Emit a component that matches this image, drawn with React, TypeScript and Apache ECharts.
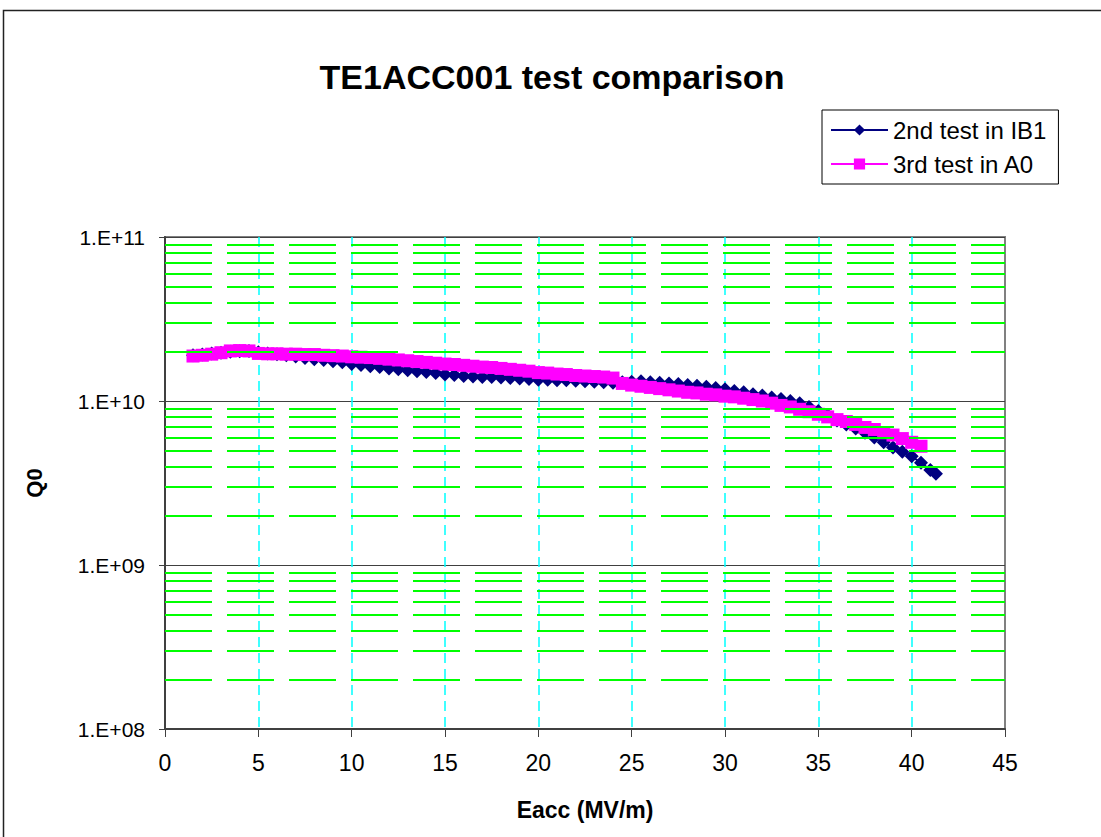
import React, { useEffect, useRef } from "react";
import * as echarts from "echarts";

const ib1X = [1.5, 2, 2.5, 3, 3.5, 4, 4.5, 5, 5.5, 6, 6.5, 7, 7.5, 8, 8.5, 9, 9.5, 10, 10.5, 11, 11.5, 12, 12.5, 13, 13.5, 14, 14.5, 15, 15.5, 16, 16.5, 17, 17.5, 18, 18.5, 19, 19.5, 20, 20.5, 21, 21.5, 22, 22.5, 23, 23.5, 24, 24.5, 25, 25.5, 26, 26.5, 27, 27.5, 28, 28.5, 29, 29.5, 30, 30.5, 31, 31.5, 32, 32.5, 33, 33.5, 34, 34.5, 35, 35.5, 36, 36.5, 37, 37.5, 38, 38.5, 39, 39.5, 40, 40.5, 41, 41.3];
const ib1Q = [1.9e10, 1.92e10, 1.95e10, 1.97e10, 2.0e10, 2.01e10, 2.02e10, 1.98e10, 1.95e10, 1.93e10, 1.9e10, 1.87e10, 1.83e10, 1.8e10, 1.78e10, 1.75e10, 1.72e10, 1.68e10, 1.66e10, 1.63e10, 1.61e10, 1.58e10, 1.56e10, 1.54e10, 1.52e10, 1.5e10, 1.48e10, 1.45e10, 1.44e10, 1.42e10, 1.41e10, 1.4e10, 1.4e10, 1.39e10, 1.38e10, 1.37e10, 1.36e10, 1.35e10, 1.35e10, 1.34e10, 1.34e10, 1.33e10, 1.32e10, 1.31e10, 1.3e10, 1.29e10, 1.3e10, 1.31e10, 1.32e10, 1.3e10, 1.29e10, 1.28e10, 1.27e10, 1.25e10, 1.24e10, 1.22e10, 1.2e10, 1.18e10, 1.15e10, 1.13e10, 1.1e10, 1.08e10, 1.05e10, 1.03e10, 1.0e10, 0.97e10, 0.92e10, 0.87e10, 0.82e10, 0.76e10, 0.72e10, 0.68e10, 0.64e10, 0.6e10, 0.56e10, 0.52e10, 0.49e10, 0.46e10, 0.42e10, 0.38e10, 0.36e10];

const a0X = [1.5, 2, 2.5, 3, 3.5, 4, 4.5, 5, 5.5, 6, 6.5, 7, 7.5, 8, 8.5, 9, 9.5, 10, 10.5, 11, 11.5, 12, 12.5, 13, 13.5, 14, 14.5, 15, 15.5, 16, 16.5, 17, 17.5, 18, 18.5, 19, 19.5, 20, 20.5, 21, 21.5, 22, 22.5, 23, 23.5, 24, 24.5, 25, 25.5, 26, 26.5, 27, 27.5, 28, 28.5, 29, 29.5, 30, 30.5, 31, 31.5, 32, 32.5, 33, 33.5, 34, 34.5, 35, 35.5, 36, 36.5, 37, 37.5, 38, 38.5, 39, 39.5, 40, 40.5];
const a0Q = [1.88e10, 1.9e10, 1.93e10, 1.97e10, 2.02e10, 2.03e10, 2.02e10, 1.95e10, 1.94e10, 1.94e10, 1.93e10, 1.93e10, 1.92e10, 1.92e10, 1.9e10, 1.89e10, 1.88e10, 1.86e10, 1.85e10, 1.84e10, 1.82e10, 1.8e10, 1.78e10, 1.76e10, 1.74e10, 1.72e10, 1.7e10, 1.68e10, 1.67e10, 1.65e10, 1.63e10, 1.61e10, 1.6e10, 1.58e10, 1.56e10, 1.54e10, 1.52e10, 1.49e10, 1.48e10, 1.46e10, 1.45e10, 1.43e10, 1.42e10, 1.41e10, 1.4e10, 1.38e10, 1.28e10, 1.25e10, 1.23e10, 1.21e10, 1.19e10, 1.17e10, 1.15e10, 1.13e10, 1.12e10, 1.1e10, 1.09e10, 1.07e10, 1.06e10, 1.04e10, 1.02e10, 1.0e10, 0.97e10, 0.94e10, 0.92e10, 0.89e10, 0.86e10, 0.83e10, 0.8e10, 0.77e10, 0.75e10, 0.72e10, 0.69e10, 0.67e10, 0.64e10, 0.62e10, 0.59e10, 0.56e10, 0.53e10];

const minorGridValues: number[] = [];
[1e8, 1e9, 1e10].forEach((d) => {
  [2, 3, 4, 5, 6, 7, 8, 9].forEach((m) => minorGridValues.push(m * d));
});

const FONT = "Liberation Sans, Arial, sans-serif";

export default function App() {
  const ref = useRef<HTMLDivElement>(null);
  useEffect(() => {
    if (!ref.current) return;
    const chart = echarts.init(ref.current, null, { renderer: "svg" });
    chart.setOption({
      animation: false,
      backgroundColor: "#ffffff",
      title: {
        text: "TE1ACC001 test comparison",
        left: 547,
        textAlign: "center",
        top: 55,
        textStyle: { fontFamily: FONT, fontSize: 34, fontWeight: "bold", color: "#000" },
      },
      legend: {
        orient: "vertical",
        left: 822,
        top: 110,
        padding: [8, 12, 8, 8],
        itemGap: 10,
        itemWidth: 57,
        itemHeight: 14,
        borderColor: "#000",
        borderWidth: 1,
        data: ["2nd test in IB1", "3rd test in A0"],
        textStyle: { fontFamily: FONT, fontSize: 24, color: "#000" },
      },
      graphic: [
        {
          type: "rect",
          shape: { x: 3.5, y: 10.5, width: 1200, height: 1000 },
          style: { fill: "none", stroke: "#222", lineWidth: 1.5 },
          silent: true,
        },
      ],
      grid: { left: 165, right: 96, top: 237, bottom: 108, show: true, borderColor: "#808080", borderWidth: 2, backgroundColor: "transparent" },
      xAxis: {
        type: "value",
        min: 0,
        max: 45,
        interval: 5,
        name: "Eacc (MV/m)",
        nameLocation: "middle",
        nameGap: 69,
        nameTextStyle: { fontFamily: FONT, fontSize: 23, fontWeight: "bold", color: "#000" },
        axisLine: { show: true, lineStyle: { color: "#404040", width: 2 } },
        axisTick: { show: true, length: 8, lineStyle: { color: "#404040" } },
        axisLabel: { fontFamily: FONT, fontSize: 23, color: "#000", margin: 22 },
        splitLine: { show: true, showMinLine: false, showMaxLine: false, lineStyle: { color: "#00ffff", type: [10, 6], width: 1.5 } },
      },
      yAxis: {
        type: "log",
        logBase: 10,
        min: 1e8,
        max: 1e11,
        name: "Q0",
        nameLocation: "middle",
        nameGap: 120,
        nameRotate: 90,
        nameTextStyle: { fontFamily: FONT, fontSize: 22, fontWeight: "bold", color: "#000" },
        axisLine: { show: true, lineStyle: { color: "#404040", width: 2 } },
        axisTick: { show: true, length: 6, lineStyle: { color: "#404040" } },
        axisLabel: {
          fontFamily: FONT,
          fontSize: 21,
          color: "#000",
          margin: 20,
          formatter: (v: number) => "1.E+" + String(Math.round(Math.log10(v))).padStart(2, "0"),
        },
        splitLine: { show: true, lineStyle: { color: "#404040", width: 1 } },
      },
      series: [
        {
          name: "grid",
          type: "line",
          data: [],
          silent: true,
          z: 1,
          markLine: {
            silent: true,
            symbol: "none",
            label: { show: false },
            lineStyle: { color: "#00ff00", type: [47, 15], width: 2 },
            data: minorGridValues.map((v) => ({ yAxis: v })),
          },
        },
        {
          name: "2nd test in IB1",
          type: "line",
          z: 3,
          data: ib1X.map((x, i) => [x, ib1Q[i]]),
          symbol: "diamond",
          symbolSize: 14,
          itemStyle: { color: "#000080" },
          lineStyle: { color: "#000080", width: 2 },
        },
        {
          name: "3rd test in A0",
          type: "line",
          z: 4,
          data: a0X.map((x, i) => [x, a0Q[i]]),
          symbol: "rect",
          symbolSize: 13,
          itemStyle: { color: "#ff00ff" },
          lineStyle: { color: "#ff00ff", width: 2 },
        },
      ],
    });
    return () => chart.dispose();
  }, []);
  return <div ref={ref} style={{ position: "fixed", left: 0, top: 0, width: 1101, height: 837 }} />;
}
